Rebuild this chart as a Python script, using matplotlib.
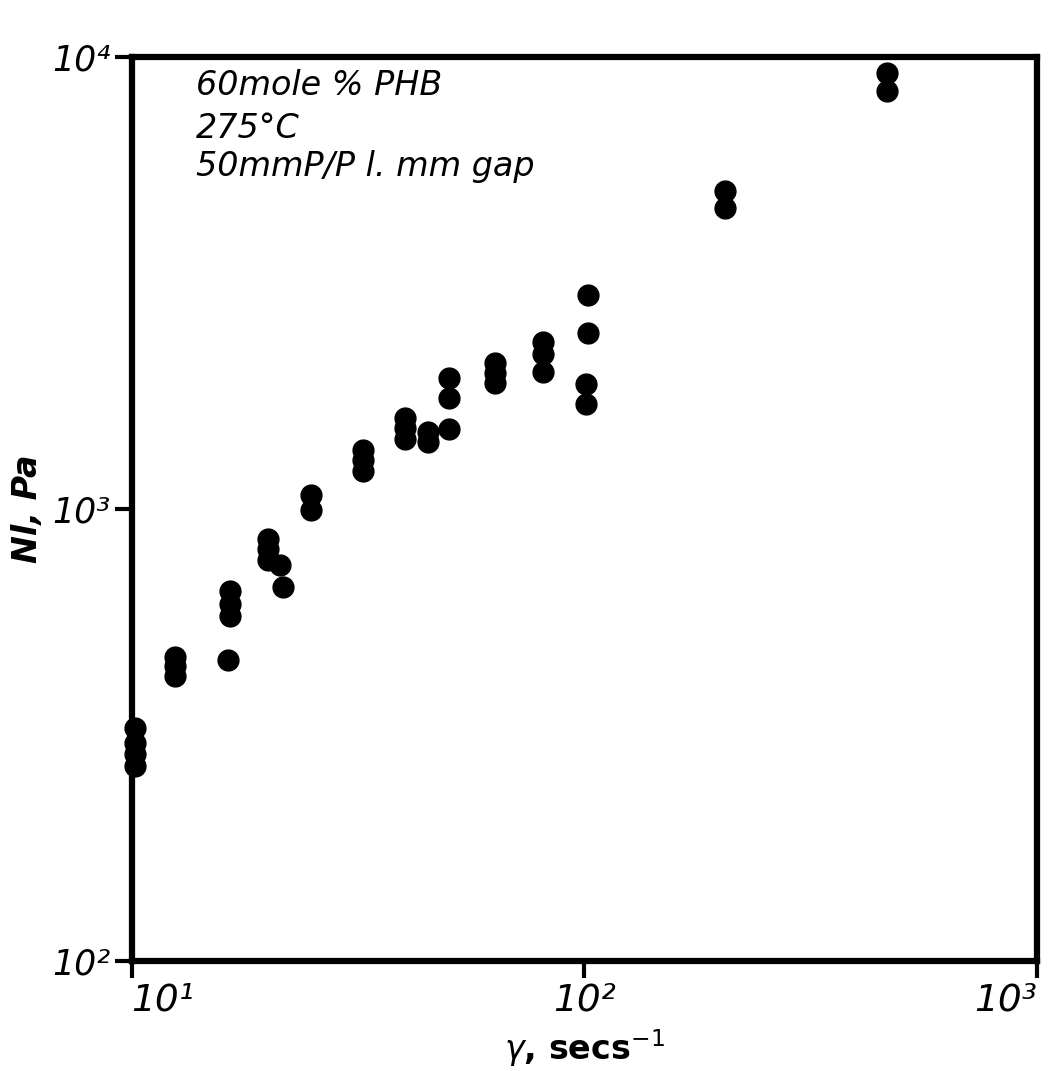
import matplotlib
matplotlib.use('Agg')
import matplotlib.pyplot as plt
import numpy as np

plt.rcParams.update({'font.family': 'DejaVu Sans',
                     'mathtext.fontset': 'dejavusans',
                     'mathtext.default': 'it'})

# shear rate (1/s) and first normal stress difference N1 (Pa), read per rate group
rate = [10.2, 10.2, 10.2, 10.2,
        12.5, 12.5, 12.5,
        16.3, 16.5, 16.5, 16.5,
        20.0, 20.0, 20.0, 21.3, 21.6,
        24.9, 24.9,
        32.4, 32.4, 32.4,
        40.3, 40.3, 40.3,
        45.3, 45.3,
        50.3, 50.3, 50.3,
        63.4, 63.4, 63.4,
        81.3, 81.3, 81.3,
        102, 102, 101, 101,
        205, 205,
        466, 466]
n1 = [327, 303, 286, 270,
      471, 448, 426,
      463, 656, 615, 578,
      859, 813, 769, 750, 671,
      1074, 991,
      1352, 1285, 1211,
      1585, 1506, 1427,
      1479, 1406,
      1942, 1754, 1499,
      2097, 1995, 1896,
      2338, 2200, 2006,
      2965, 2448, 1888, 1706,
      5048, 4634,
      9185, 8395]

xticks = [10, 100, 1000]
yticks = [100, 1000, 10000]
notes = ['60mole % PHB', '275°C', '50mmP/P l. mm gap']

SUP = str.maketrans('0123456789', '⁰¹²³⁴⁵⁶⁷⁸⁹')


def dec_label(v):
    e = int(round(np.log10(v)))
    return '10' + str(e).translate(SUP)


fig = plt.figure(figsize=(10.61, 10.71), dpi=100)
ax = fig.add_axes([0.124, 0.103, 0.853, 0.844])
ax.plot(rate, n1, 'o', color='black', ms=15, mec='black', clip_on=False, zorder=3)

ax.set_xscale('log')
ax.set_yscale('log')
ax.set_xlim(xticks[0], xticks[-1])
ax.set_ylim(yticks[0], yticks[-1])
ax.minorticks_off()
ax.set_xticks(xticks)
ax.set_yticks(yticks)
ax.set_xticklabels([dec_label(v) for v in xticks], fontstyle='italic')
ax.set_yticklabels([dec_label(v) for v in yticks], fontstyle='italic')
ax.tick_params(direction='out', length=12, width=3, labelsize=27, pad=4)
ax.tick_params(axis='y', labelsize=25, pad=3)
ax.get_xticklabels()[-1].set_ha('right')
ax.get_xticklabels()[0].set_ha('left')
for s in ax.spines.values():
    s.set_linewidth(4.5)

ax.set_xlabel(r'$\gamma$, secs$^{-1}$', fontsize=24, fontweight='bold', labelpad=6)
ax.set_ylabel('Nl, Pa', fontsize=24, fontweight='bold', fontstyle='italic')
ax.yaxis.set_label_coords(-0.097, 0.5)

for txt, y in zip(notes, [0.986, 0.939, 0.897]):
    ax.text(0.071, y, txt, transform=ax.transAxes, ha='left', va='top',
            fontsize=24, fontstyle='italic')

fig.savefig('out.png', dpi=100)
